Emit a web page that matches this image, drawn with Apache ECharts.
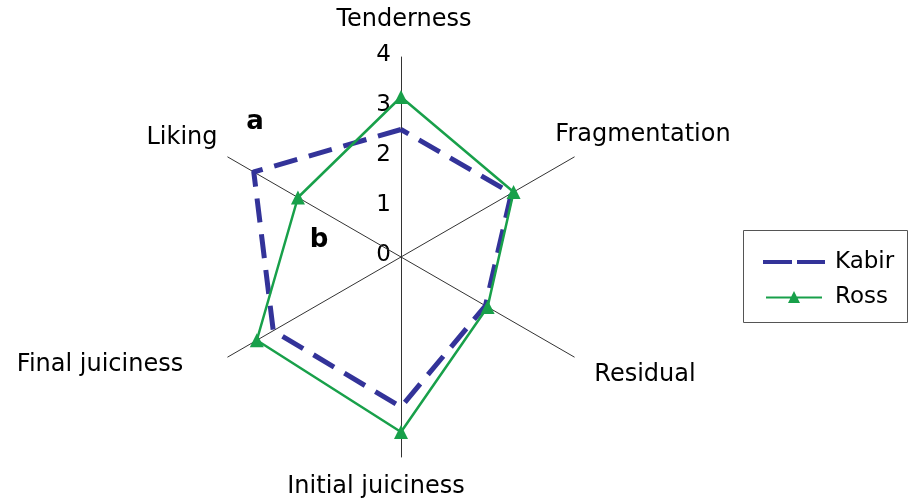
<!DOCTYPE html>
<html>
<head>
<meta charset="utf-8">
<script src="https://cdn.jsdelivr.net/npm/echarts@6/dist/echarts.min.js"></script>
<style>
  html, body { margin: 0; padding: 0; background: #fff; }
  #chart { width: 909px; height: 503px; }
</style>
</head>
<body>
<div id="chart"></div>
<script>
document.addEventListener("DOMContentLoaded", function () {
    // radar order in ECharts runs counter-clockwise from the top
    const categories = ["Tenderness", "Liking", "Final juiciness", "Initial juiciness", "Residual", "Fragmentation"];
    const kabirValues = [2.55, 3.4, 2.95, 3.0, 1.95, 2.55];
    const rossValues = [3.2, 2.38, 3.33, 3.5, 2.0, 2.6];
    const tickLabels = ["0", "1", "2", "3", "4"];
    const axisMax = 4;

    const font = "DejaVu Sans, Verdana, sans-serif";
    const cx = 401, cy = 257, radius = 200;
    const kabirColor = "#333399";
    const rossColor = "#18a04a";

    // where the axis names sit in the original (Excel puts them its own way)
    const namePos = [
        [404, 20], [182, 138], [100, 365],
        [376, 487], [645, 375], [643, 135]
    ];

    const chartDom = document.getElementById("chart");
    const myChart = echarts.init(chartDom);

    const graphics = categories.map((name, i) => ({
        type: "text",
        x: namePos[i][0],
        y: namePos[i][1],
        style: {
            text: name,
            font: "24px " + font,
            fill: "#000",
            align: "center",
            verticalAlign: "middle"
        }
    }));

    // tick labels along the Tenderness axis
    tickLabels.forEach(t => {
        graphics.push({
            type: "text",
            x: cx - 10,
            y: cy - 2 - (Number(t) / axisMax) * radius,
            style: {
                text: t,
                font: "23px " + font,
                fill: "#000",
                align: "right",
                verticalAlign: "middle"
            }
        });
    });

    graphics.push(
        { type: "text", x: 255, y: 122, style: { text: "a", font: "bold 26px " + font, fill: "#000", align: "center", verticalAlign: "middle" } },
        { type: "text", x: 319, y: 240, style: { text: "b", font: "bold 26px " + font, fill: "#000", align: "center", verticalAlign: "middle" } },
        // legend frame
        { type: "rect", shape: { x: 743.5, y: 230.5, width: 164, height: 92 }, style: { fill: "none", stroke: "#555", lineWidth: 1 } }
    );

    const option = {
        animation: false,
        backgroundColor: "#fff",
        legend: {
            orient: "vertical",
            left: 763,
            top: 250,
            padding: 0,
            itemGap: 11,
            itemWidth: 62,
            itemHeight: 12,
            textStyle: { fontFamily: font, fontSize: 23, lineHeight: 24, color: "#000", padding: [0, 0, 0, 5] },
            data: [
                { name: "Kabir", icon: "path://M0,0H29V4H0Z M34,0H62V4H34Z" },
                { name: "Ross", icon: "path://M0,5.5H56V7.5H0Z M28,0L34,12L22,12Z" }
            ]
        },
        radar: {
            center: [cx, cy],
            radius: radius,
            startAngle: 90,
            shape: "polygon",
            splitNumber: 4,
            indicator: categories.map(name => ({ name: name, min: 0, max: axisMax })),
            axisName: { show: false },
            axisLine: { lineStyle: { color: "#333", width: 1 } },
            axisTick: { show: false },
            axisLabel: { show: false },
            splitLine: { show: false },
            splitArea: { show: false }
        },
        graphic: graphics,
        series: [
            {
                type: "radar",
                data: [
                    {
                        name: "Kabir",
                        value: kabirValues,
                        symbol: "none",
                        lineStyle: { color: kabirColor, width: 5, type: [24, 12] },
                        itemStyle: { color: kabirColor }
                    },
                    {
                        name: "Ross",
                        value: rossValues,
                        symbol: "triangle",
                        symbolSize: 14,
                        lineStyle: { color: rossColor, width: 2.5, type: "solid" },
                        itemStyle: { color: rossColor }
                    }
                ]
            }
        ]
    };

    myChart.setOption(option);
});
</script>
</body>
</html>
